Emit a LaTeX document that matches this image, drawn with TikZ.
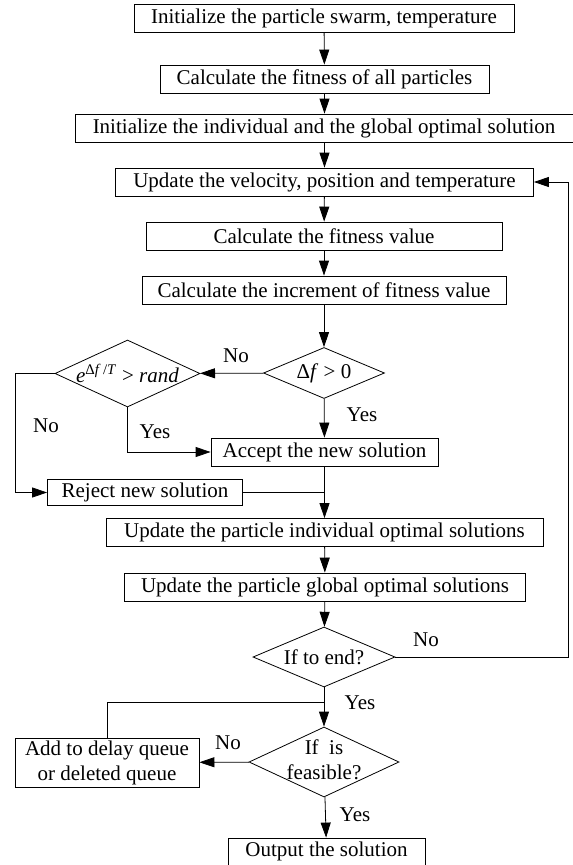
\documentclass[tikz,border=0pt]{standalone}
\usepackage{fontspec}
\setmainfont{Liberation Serif}
\usetikzlibrary{shapes.geometric}
\usetikzlibrary{arrows.meta}

\begin{document}
\begin{tikzpicture}[x=1pt,y=-1pt,
						every node/.style={font=\fontsize{21}{25}\selectfont},
						box/.style={rectangle, draw=black, line width=0.8pt, minimum height=28pt, inner xsep=4pt, inner ysep=2pt},
						decision/.style={diamond, draw=black, line width=0.8pt, inner sep=0pt},
						flow/.style={line width=0.8pt, -{Triangle[length=15pt,width=10pt]}},
						link/.style={line width=0.8pt},
						]
						\useasboundingbox (0,0) rectangle (573,865);
						%Nodes
						\node[box, minimum width=380pt]   (init) 	at	(324,18) 	{Initialize the particle swarm, temperature};
						\node[box, minimum width=329pt]   (fit) 	at	(324.5,79) 	{Calculate the fitness of all particles};
						\node[box, minimum width=498pt]   (best) 	at	(324,128) 	{Initialize the individual and the global optimal solution};
						\node[box, minimum width=418pt]   (upd) 	at	(324.5,182) 	{Update the velocity, position and temperature};
						\node[box, minimum width=356pt]   (val) 	at	(324,236) 	{Calculate the fitness value};
						\node[box, minimum width=364pt]   (inc) 	at	(324,290) 	{Calculate the increment of fitness value};
						\node[decision, minimum width=121pt, minimum height=51pt] (df) at (324,373) {\makebox[0pt]{Δ\textit{f} > 0}};
						\node[decision, minimum width=145pt, minimum height=67pt] (ed) at (127.5,373.5) {\makebox[0pt]{\textit{e}\textsuperscript{Δ\textit{f}\,/\textit{T}} > \textit{rand}}};
						\node[box, minimum width=227pt]   (acc) 	at	(324.5,452) 	{Accept the new solution};
						\node[box, minimum width=195pt, minimum height=26pt]   (rej) 	at	(145,492.5) 	{Reject new solution};
						\node[box, minimum width=437pt]   (upi) 	at	(324.5,532.5) 	{Update the particle individual optimal solutions};
						\node[box, minimum width=401pt]   (upg) 	at	(325,587) 	{Update the particle global optimal solutions};
						\node[decision, minimum width=142pt, minimum height=60pt] (isend) at (324,657) {\makebox[0pt]{If to end?}};
						\node[decision, minimum width=150pt, minimum height=70pt] (feas) at (324,762) {\makebox[0pt]{\begin{tabular}{@{}c@{}}If\ \ is\\feasible?\end{tabular}}};
						\node[box, minimum width=184pt, minimum height=49pt, align=center] (add) at (107,762.5) {Add to delay queue\\or deleted queue};
						\node[box, minimum width=197pt, minimum height=27pt]   (out) 	at	(326.5,851.5) 	{Output the solution};
						
						\node (no1)  at (236,356) {No};
						\node (yes1) at (362,415) {Yes};
						\node (yes2) at (155,432) {Yes};
						\node (no2)  at (46,426)  {No};
						\node (no3)  at (426,640) {No};
						\node (yes3) at (360,703) {Yes};
						\node (no4)  at (228,743) {No};
						\node (yes4) at (355,815) {Yes};
						
						\coordinate (lft)  at (15,373.5);
						\coordinate (rgt)  at (568,657);
						\coordinate (join) at (324,702);
						
						%Connectors
						\draw[flow] (init) -- (fit);
						\draw[flow] (fit) -- (fit |- best.north);
						\draw[flow] (best.south -| upd.north) -- (upd);
						\draw[flow] (upd) -- (val);
						\draw[flow] (val) -- (inc);
						\draw[flow] (inc) -- (df);
						\draw[flow] (df) -- (ed);
						\draw[flow] (df) -- (acc);
						\draw[flow] (ed.south) |- (acc.west);
						\draw[flow] (ed.west) -- (lft) |- (rej.west);
						\draw[link] (rej.east) -- (rej.east -| acc.south);
						\draw[flow] (acc) -- (upi);
						\draw[flow] (upi) -- (upg);
						\draw[flow] (upg) -- (isend);
						\draw[flow] (isend.east) -- (rgt) |- (upd.east);
						\draw[flow] (isend) -- (feas);
						\draw[link] (add.north) |- (join);
						\draw[flow] (feas) -- (add);
						\draw[flow] (feas) -- (out);
					\end{tikzpicture}
\end{document}
